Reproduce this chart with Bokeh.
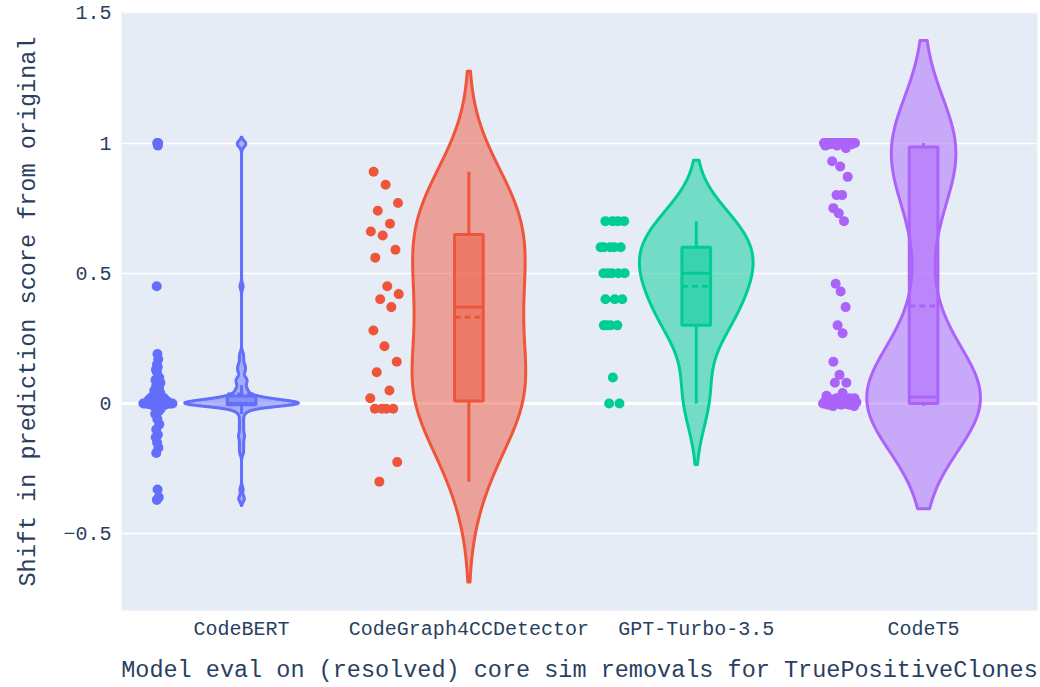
import numpy as np
from bokeh.plotting import figure
from bokeh.models import Range1d, FixedTicker, Span
from bokeh.embed import file_html
from bokeh.resources import INLINE

# ---------------- data ----------------
models = ["CodeBERT", "CodeGraph4CCDetector", "GPT-Turbo-3.5", "CodeT5"]
colors = ["#636efa", "#EF553B", "#00cc96", "#ab63fa"]

codebert = [1.0, 1.0, 0.99, 0.45,
            0.19, 0.17, 0.15, 0.14, 0.13, 0.12, 0.10, 0.09, 0.09, 0.08, 0.07, 0.06, 0.05, 0.05, 0.04,
            0.035, 0.03, 0.025, 0.02, 0.02, 0.02, 0.02, 0.02, 0.015, 0.015, 0.015,
            0.01, 0.01, 0.01, 0.01, 0.01, 0.005, 0.005, 0.005, 0.005, 0.005,
            0.0, 0.0, 0.0, 0.0, 0.0, 0.0, 0.0, 0.0, 0.0, 0.0,
            0.0, 0.0, 0.0, 0.0, 0.0, 0.0, 0.0, 0.0, 0.0, 0.0,
            -0.005, -0.005, -0.005, -0.005, -0.01, -0.01, -0.01, -0.015, -0.02, -0.02, -0.03, -0.04,
            -0.06, -0.08, -0.10, -0.12, -0.13, -0.15, -0.17, -0.19,
            -0.33, -0.36, -0.37]

codegraph = [0.89, 0.84, 0.77, 0.74, 0.69, 0.66, 0.645, 0.59, 0.56, 0.45, 0.42, 0.40, 0.37,
             0.28, 0.22, 0.16, 0.12, 0.05, 0.02, -0.02, -0.02, -0.02, -0.02, -0.225, -0.30]

gpt = [0.7, 0.7, 0.7, 0.7, 0.6, 0.6, 0.6, 0.6, 0.6, 0.5, 0.5, 0.5, 0.5, 0.5,
       0.4, 0.4, 0.4, 0.3, 0.3, 0.3, 0.3, 0.1, 0.0, 0.0]

codet5 = [1.0, 1.0, 1.0, 1.0, 1.0, 1.0, 1.0, 1.0, 1.0, 1.0, 1.0, 1.0, 1.0, 1.0, 1.0,
          0.995, 0.995, 0.995, 0.99, 0.99, 0.98,
          0.93, 0.91, 0.87, 0.80, 0.80, 0.75, 0.73, 0.70,
          0.46, 0.43, 0.37, 0.30, 0.27, 0.16, 0.11, 0.08, 0.08,
          0.03, 0.04, 0.02, 0.02, 0.02, 0.02, 0.02, 0.015, 0.015,
          0.01, 0.01, 0.01, 0.01, 0.01, 0.005, 0.005, 0.005, 0.005, 0.005, 0.005,
          0.0, 0.0, 0.0, 0.0, 0.0, 0.0, 0.0, 0.0, 0.0, 0.0, 0.0, 0.0, 0.0, 0.0, 0.0, 0.0, 0.0,
          -0.005, -0.005, -0.005, -0.01, -0.01]

series = [codebert, codegraph, gpt, codet5]

y_ticks = [-0.5, 0.0, 0.5, 1.0, 1.5]
y_tick_labels = ["\u22120.5", "0", "0.5", "1", "1.5"]
x_title = "Model eval on (resolved) core sim removals for TruePositiveClones"
y_title = "Shift in prediction score from original"

# ---------------- styling constants ----------------
FONT = "Liberation Mono"
TXT = "#2a3f5f"
HALF_W = 0.25       # violin half width (category units)
BOX_HW = 0.063      # box half width
PT_OFF = -0.37      # point column offset
JIT = 0.075         # max jitter half range


def stats(v):
    v = np.asarray(v, float)
    q1, med, q3 = np.percentile(v, [25, 50, 75], method="hazen")
    return q1, med, q3, v.mean()


def kde(v):
    v = np.asarray(v, float)
    n = len(v)
    q1, _, q3, _ = stats(v)
    b = min(v.std(ddof=1), (q3 - q1) / 1.349)
    if not b > 0:
        b = v.std(ddof=1)
    bw = 1.059 * b * n ** -0.2
    ys = np.linspace(v.min() - 2 * bw, v.max() + 2 * bw, 2500)
    d = np.exp(-0.5 * ((ys[:, None] - v[None, :]) / bw) ** 2).sum(axis=1)
    return ys, d / d.max()


def jitter(v):
    v = np.asarray(v, float)
    n = len(v)
    order = np.argsort(v, kind="stable")
    sv = v[order]
    q1, _, q3, _ = stats(v)
    ms = max((q3 - q1) * 0.01, 1e-9)
    f = np.zeros(n)
    for i in range(n):
        i0, i1 = max(0, i - 5), min(n - 1, i + 5)
        f[i] = np.sqrt(ms * (i1 - i0) / (sv[i1] - sv[i0] + ms))
    f = np.clip(f, 0, 1)
    f = f / f.max()
    phase = (np.arange(n) * 0.6180339887 + 0.31) % 1.0 - 0.5
    off = np.empty(n)
    off[order] = 2 * phase * f * JIT
    return off


p = figure(width=1040, height=687, output_backend="svg", toolbar_location=None,
           x_range=Range1d(-0.528, 3.501), y_range=Range1d(-0.7946, 1.501),
           min_border_left=121, min_border_top=12, min_border_right=3, min_border_bottom=77)

p.background_fill_color = "#E5ECF6"
p.border_fill_color = "white"
p.outline_line_color = None

zero = Span(location=0, dimension="width", line_color="white", line_width=3, level="underlay")
p.add_layout(zero)

for i, (vals, c) in enumerate(zip(series, colors)):
    ys, d = kde(vals)
    xs = np.concatenate([i + HALF_W * d, (i - HALF_W * d)[::-1]])
    yy = np.concatenate([ys, ys[::-1]])
    p.patch(xs, yy, fill_color=c, fill_alpha=0.5, line_color=c, line_width=3, line_join="round")

    q1, med, q3, mean = stats(vals)
    arr = np.asarray(vals, float)
    iqr = q3 - q1
    lf = arr[arr >= q1 - 1.5 * iqr].min()
    uf = arr[arr <= q3 + 1.5 * iqr].max()
    p.segment(x0=[i, i], y0=[lf, q3], x1=[i, i], y1=[q1, uf], line_color=c, line_width=3)
    p.quad(left=i - BOX_HW, right=i + BOX_HW, bottom=q1, top=q3,
           fill_color=c, fill_alpha=0.5, line_color=c, line_width=3)
    p.segment(x0=i - BOX_HW, x1=i + BOX_HW, y0=med, y1=med, line_color=c, line_width=3)
    p.segment(x0=i - BOX_HW, x1=i + BOX_HW, y0=mean, y1=mean, line_color=c, line_width=3,
              line_dash="6 4")

    px = i + PT_OFF + jitter(vals)
    p.scatter(px, arr, size=10, fill_color=c, line_color=None)

# axes
p.xaxis.ticker = FixedTicker(ticks=[0, 1, 2, 3])
p.xaxis.major_label_overrides = {k: m for k, m in enumerate(models)}
p.yaxis.ticker = FixedTicker(ticks=y_ticks)
p.yaxis.major_label_overrides = {t: s for t, s in zip(y_ticks, y_tick_labels)}

for ax in (p.xaxis[0], p.yaxis[0]):
    ax.axis_line_color = None
    ax.major_tick_line_color = None
    ax.minor_tick_line_color = None
    ax.major_label_text_font = FONT
    ax.major_label_text_font_size = "20px"
    ax.major_label_text_color = TXT
    ax.axis_label_text_font = FONT
    ax.axis_label_text_font_size = "23.5px"
    ax.axis_label_text_font_style = "normal"
    ax.axis_label_text_color = TXT

p.xaxis.axis_label = x_title
p.yaxis.axis_label = y_title
p.xaxis.major_label_standoff = 1
p.xaxis.axis_label_standoff = 13
p.yaxis.major_label_standoff = 4
p.yaxis.axis_label_standoff = 18

p.xgrid.grid_line_color = None
p.ygrid.grid_line_color = "white"
p.ygrid.grid_line_width = 1.5

open("out.html", "w").write(file_html(p, INLINE))
